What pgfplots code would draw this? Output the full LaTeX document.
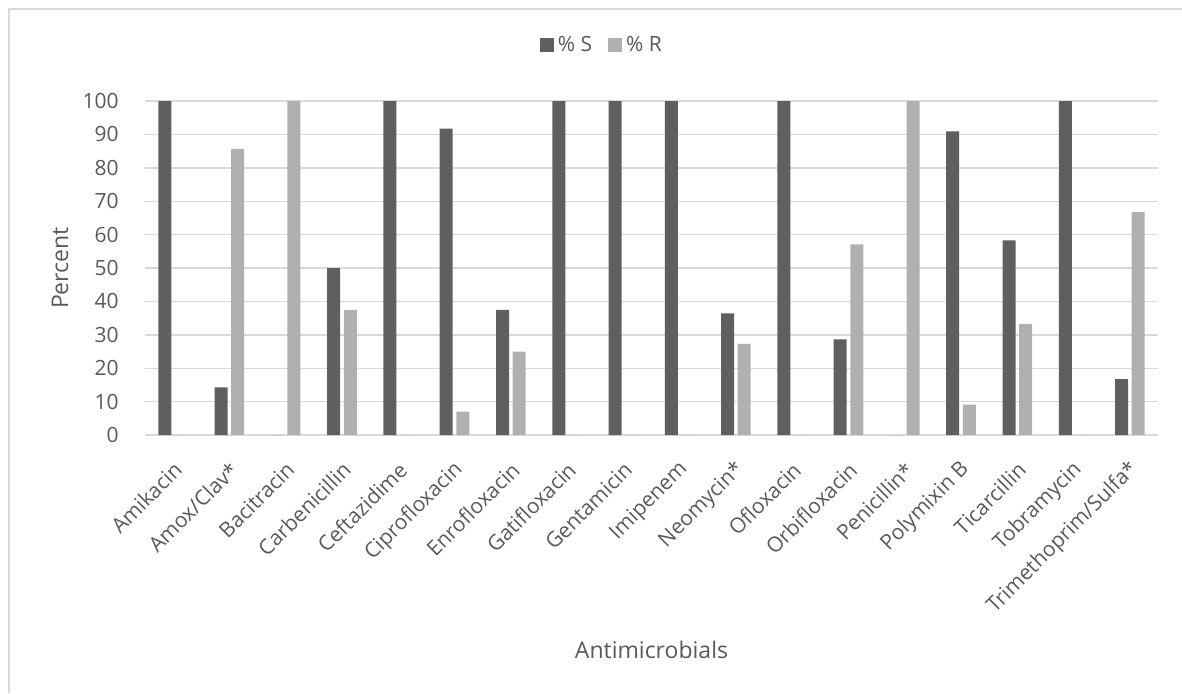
\documentclass[border=0pt]{standalone}
\usepackage{fontspec}
\setmainfont{Open Sans}
\usepackage{pgfplots}
\pgfplotsset{compat=1.18}

\definecolor{sgray}{HTML}{5F5F5F}
\definecolor{rgray}{HTML}{B0B0B0}
\definecolor{gridgray}{HTML}{D9D9D9}
\definecolor{txtgray}{HTML}{595959}

\begin{document}
\begin{tikzpicture}[x=1pt,y=1pt]
% page size and chart-area border
\path[use as bounding box] (-72.5,-129) rectangle (518.5,217.5);
\draw[gridgray, line width=0.7pt] (-68,-129) -- (-68,213) -- (518.5,213);
\begin{axis}[
  at={(0pt,0pt)}, anchor=south west,
  scale only axis,
  width=506.5pt, height=167pt,
  xmin=-0.5, xmax=17.5,
  ymin=0, ymax=100,
  ytick={0,10,...,100},
  xtick={0,...,17},
  xticklabels={Amikacin, Amox/Clav*, Bacitracin, Carbenicillin, Ceftazidime,
    Ciprofloxacin, Enrofloxacin, Gatifloxacin, Gentamicin, Imipenem, Neomycin*,
    Ofloxacin, Orbifloxacin, Penicillin*, Polymixin B, Ticarcillin, Tobramycin,
    Trimethoprim/Sulfa*},
  /pgf/number format/assume math mode=true,
  major tick length=0pt,
  axis line style={draw=none},
  ymajorgrids,
  grid style={gridgray, line width=0.7pt},
  ybar=1.8pt,
  bar width=6.5pt,
  tick label style={text=txtgray, font=\fontsize{10.5}{12}\selectfont, inner sep=0pt},
  yticklabel style={anchor=east, xshift=-13pt},
  xticklabel style={xshift=2.5pt, yshift=-15.5pt, rotate=45, anchor=east},
  xlabel={Antimicrobials},
  ylabel={Percent},
  label style={text=txtgray, font=\fontsize{11.5}{13.8}\selectfont},
  xlabel style={at={(axis description cs:0.5,-0.6437)}, anchor=center},
  ylabel style={at={(axis description cs:-0.0839,0.5)}, anchor=center},
  legend columns=2,
  legend style={at={(0.452,1.168)}, anchor=center, draw=none, fill=none,
    text=txtgray, font=\fontsize{10.5}{12}\selectfont,
    /tikz/every even column/.append style={column sep=6pt}},
]
\addplot[fill=sgray, draw=none,
  legend image code/.code={\fill[sgray] (0pt,-3.5pt) rectangle (7pt,3.5pt);}]
  coordinates {(0,100) (1,14.3) (2,0) (3,50) (4,100) (5,91.7) (6,37.5) (7,100)
    (8,100) (9,100) (10,36.4) (11,100) (12,28.6) (13,0) (14,90.9) (15,58.3)
    (16,100) (17,16.7)};
\addlegendentry{\% S}
\addplot[fill=rgray, draw=none,
  legend image code/.code={\fill[rgray] (0pt,-3.5pt) rectangle (7pt,3.5pt);}]
  coordinates {(0,0) (1,85.7) (2,100) (3,37.5) (4,0) (5,7) (6,25) (7,0)
    (8,0) (9,0) (10,27.3) (11,0) (12,57.1) (13,100) (14,9.1) (15,33.3)
    (16,0) (17,66.7)};
\addlegendentry{\% R}
\end{axis}
\end{tikzpicture}
\end{document}
